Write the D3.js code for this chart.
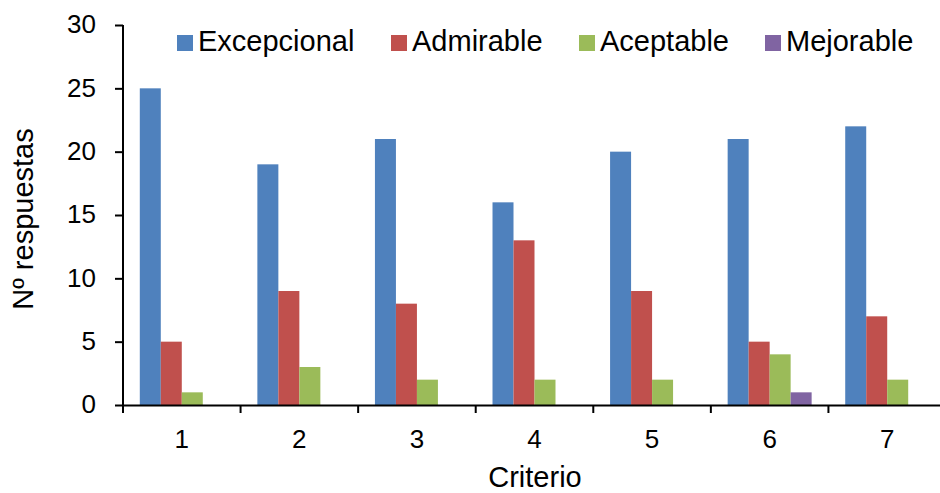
<!DOCTYPE html>
<html><head><meta charset="utf-8">
<script src="https://cdn.jsdelivr.net/npm/d3@7"></script>
<style>body{margin:0;background:#fff}svg{display:block}text{font-family:"Liberation Sans",Arial,sans-serif;fill:#000}</style>
</head><body><svg id="c" width="940" height="493"></svg>
<script>
const categories = ["1","2","3","4","5","6","7"];
const seriesNames = ["Excepcional","Admirable","Aceptable","Mejorable"];
const colors = ["#4F81BD","#C0504D","#9BBB59","#8064A2"];
const excepcional = [25,19,21,16,20,21,22];
const admirable = [5,9,8,13,9,5,7];
const aceptable = [1,3,2,2,2,4,2];
const mejorable = [0,0,0,0,0,1,0];
const yTicks = [0,5,10,15,20,25,30];
const seriesValues = [excepcional, admirable, aceptable, mejorable];

const svg = d3.select("#c");
const x0 = 123, x1 = 946, yTop = 25, yBot = 405;
const x = d3.scaleBand().domain(categories).range([x0, x1]).padding(0);
const xs = d3.scaleBand().domain(seriesNames).range([0, x.bandwidth()]).paddingInner(0).paddingOuter(0.8);
const y = d3.scaleLinear().domain([0,30]).range([yBot, yTop]);

// bars
seriesNames.forEach((s, si) => {
  svg.append("g").selectAll("rect").data(categories.map((c,i)=>({c, v: seriesValues[si][i]})).filter(d=>d.v>0))
    .join("rect")
    .attr("x", d => x(d.c) + xs(s))
    .attr("width", xs.bandwidth())
    .attr("y", d => y(d.v))
    .attr("height", d => y(0) - y(d.v))
    .attr("fill", colors[si]);
});

// y axis
const yAxis = svg.append("g").attr("transform", `translate(${x0},0)`)
  .call(d3.axisLeft(y).tickValues(yTicks).tickSize(8).tickPadding(19));
yAxis.select(".domain").attr("stroke","#000").attr("stroke-width",2).attr("d", `M0,${yTop}V${yBot}`);
yAxis.selectAll(".tick line").attr("stroke","#000").attr("stroke-width",2);
yAxis.selectAll(".tick text").attr("font-size",26).attr("font-family","Liberation Sans, Arial, sans-serif").attr("fill","#000").attr("dy","0.3em");

// x axis
const xAxis = svg.append("g").attr("transform", `translate(0,${yBot})`)
  .call(d3.axisBottom(x).tickSize(0).tickPadding(25));
xAxis.select(".domain").attr("stroke","#000").attr("stroke-width",2);
xAxis.selectAll(".tick text").attr("font-size",26).attr("font-family","Liberation Sans, Arial, sans-serif").attr("fill","#000");
// boundary ticks
const bounds = categories.map(c => x(c)).concat([x1]);
svg.append("g").selectAll("line").data(bounds).join("line")
  .attr("x1", d=>d).attr("x2", d=>d).attr("y1", yBot).attr("y2", yBot+8)
  .attr("stroke","#000").attr("stroke-width",2);

// titles
svg.append("text").attr("transform","translate(33,219) rotate(-90)").attr("text-anchor","middle")
  .attr("font-size",29).text("Nº respuestas");
svg.append("text").attr("x",535).attr("y",487).attr("text-anchor","middle")
  .attr("font-size",29).text("Criterio");

// legend
const legX = [177, 391, 579, 765];
const lg = svg.append("g");
seriesNames.forEach((s, i) => {
  lg.append("rect").attr("x", legX[i]).attr("y", 35).attr("width", 16).attr("height", 16).attr("fill", colors[i]);
  lg.append("text").attr("x", legX[i] + 21).attr("y", 51).attr("font-size", 29).text(s);
});
</script></body></html>
